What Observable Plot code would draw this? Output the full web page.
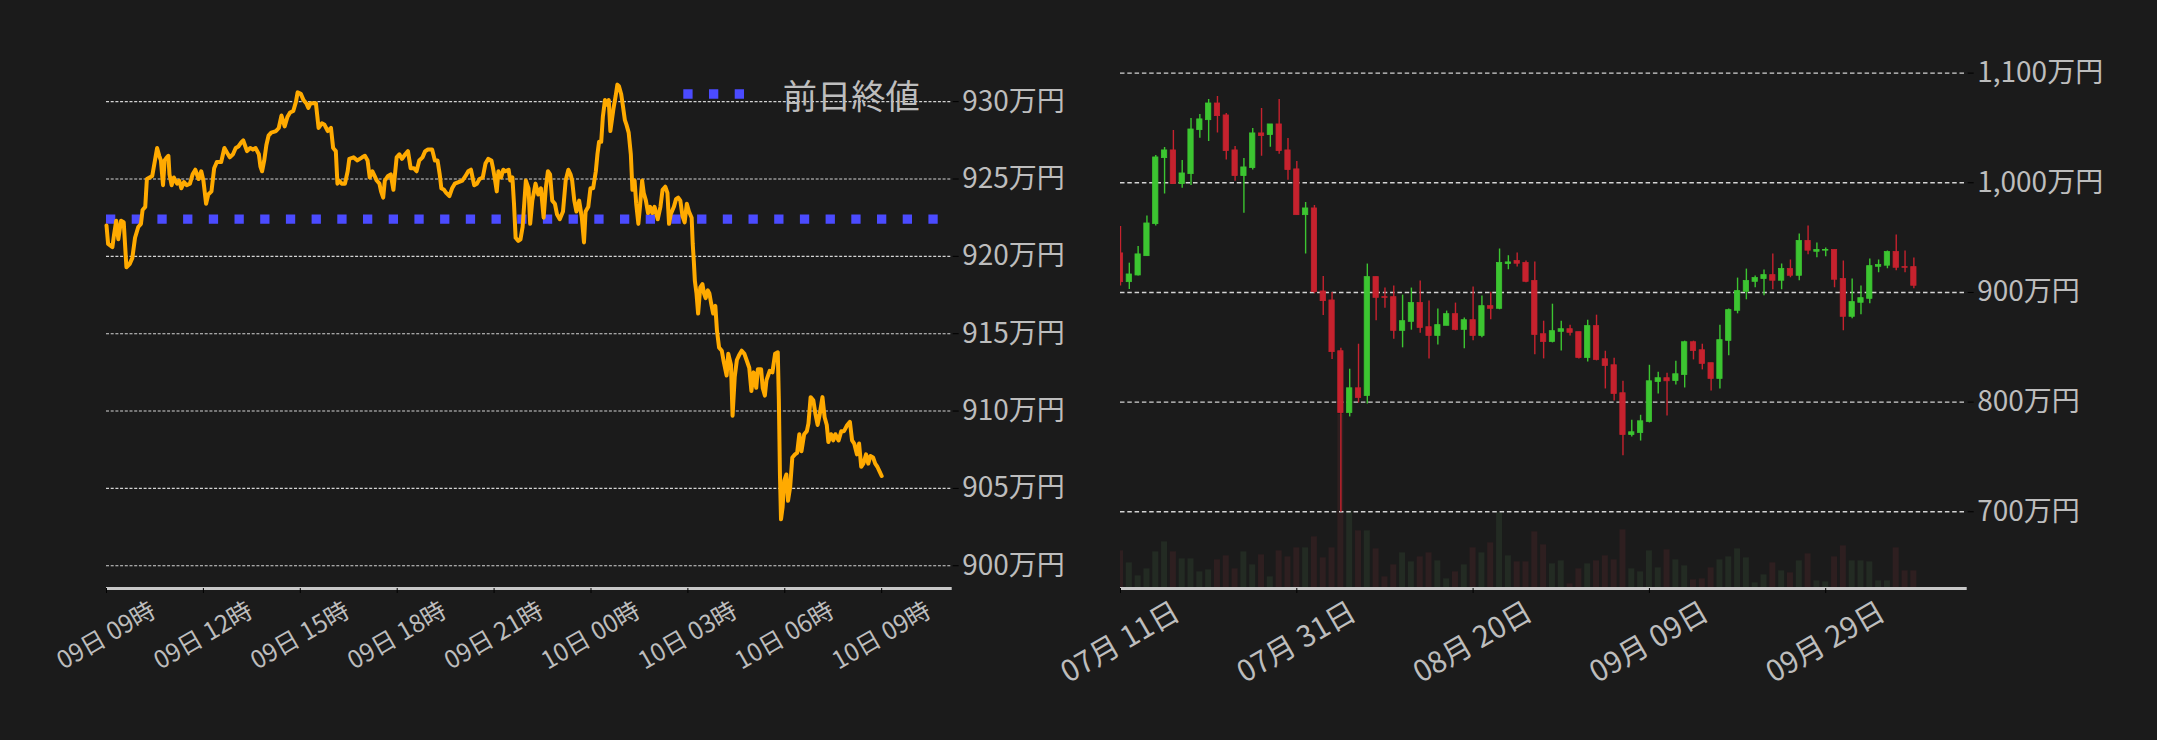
<!DOCTYPE html>
<html><head><meta charset="utf-8">
<script src="https://cdn.jsdelivr.net/npm/d3@7"></script>
<script src="https://cdn.jsdelivr.net/npm/@observablehq/plot@0.6"></script>
<style>
html,body{margin:0;padding:0;background:#1b1b1b;}
#wrap{position:relative;width:2157px;height:740px;overflow:hidden;background:#1b1b1b;font-family:"Noto Sans CJK JP","Noto Sans",sans-serif;}
.layer{position:absolute;top:0;}
</style></head><body><div id="wrap"></div>
<script>
// ---- intraday (left) ----
const intradayMinutes = [0,3,11,14,18,22,27,32,37,43,48,53,59,64,67,72,75,80,85,91,94,98,101,105,108,112,115,117,121,125,131,135,139,144,149,155,160,165,171,176,180,185,189,195,200,205,213,219,224,229,235,240,245,251,254,258,261,267,272,277,283,286,289,293,297,301,306,315,320,325,331,336,341,347,352,355,361,366,371,375,379,384,389,394,400,405,411,417,421,426,429,432,437,443,448,451,459,466,475,480,485,489,494,498,502,507,510,514,517,523,528,533,539,544,549,555,560,565,571,576,581,587,592,597,605,610,615,619,622,627,631,637,642,647,654,661,667,672,677,683,688,693,699,704,709,715,718,721,725,728,733,737,741,747,750,754,757,760,765,769,773,779,784,787,791,797,802,807,812,816,820,824,828,833,837,842,848,853,858,862,865,869,873,878,883,887,890,895,899,904,909,912,915,919,922,926,929,933,936,942,946,949,952,956,959,963,966,970,974,977,981,984,988,991,995,998,1002,1006,1010,1014,1018,1024,1029,1033,1038,1042,1045,1048,1054,1058,1062,1066,1070,1074,1078,1082,1087,1089,1091,1093,1096,1099,1103,1107,1110,1113,1117,1120,1123,1127,1131,1134,1138,1143,1146,1152,1155,1160,1163,1167,1171,1175,1180,1185,1189,1194,1198,1202,1207,1210,1216,1219,1223,1226,1232,1237,1242,1247,1249,1251,1253,1256,1259,1263,1266,1270,1274,1279,1283,1287,1291,1296,1301,1304,1308,1313,1317,1321,1325,1330,1334,1338,1341,1346,1350,1354,1360,1365,1370,1376,1381,1385,1389,1394,1398,1402,1406,1411,1415,1419,1424,1428,1432,1436,1440];
const intradayPrice = [922.0,920.8,920.6,921.4,922.3,921.1,922.3,922.2,919.3,919.5,
919.9,921.2,921.9,922.1,923.0,923.2,925.0,925.1,925.2,926.4,
927.0,926.5,926.2,924.6,926.2,926.4,926.5,925.3,924.6,925.1,
924.7,924.9,924.4,924.8,924.6,924.7,925.3,925.6,925.0,925.5,
924.9,923.4,924.0,924.2,925.7,926.1,926.1,927.0,926.7,926.4,
926.6,927.0,927.1,927.4,927.5,927.1,926.8,927.0,926.9,927.0,
926.6,925.8,925.5,926.2,927.2,927.8,928.0,928.1,928.3,929.1,
928.4,929.0,929.3,929.4,930.0,930.6,930.5,930.1,929.9,929.6,
929.9,929.9,929.9,928.3,928.6,928.5,928.1,928.3,927.0,926.8,
924.7,924.9,924.7,924.7,925.5,926.3,926.4,926.2,926.4,926.5,
926.2,925.1,925.5,925.2,924.9,924.7,924.2,923.8,924.9,925.2,
925.3,924.3,926.4,926.6,926.3,926.6,926.8,925.7,925.7,925.5,
926.2,926.4,926.8,926.9,926.9,926.2,926.2,925.3,924.4,924.3,
924.1,923.9,924.4,924.7,924.8,924.9,925.2,925.5,925.6,924.6,
924.7,925.0,925.1,926.0,926.3,926.2,925.7,925.1,924.2,925.5,
925.1,925.6,925.5,925.6,924.9,925.1,923.4,921.2,921.0,921.1,
921.9,924.9,924.4,922.1,923.6,924.7,924.0,924.4,922.5,924.4,
925.5,925.3,923.6,923.4,922.7,922.4,922.9,924.9,925.6,925.3,
924.9,923.6,922.9,923.6,922.5,920.9,922.9,923.2,924.4,924.4,
925.5,926.6,927.4,927.4,929.0,930.1,929.8,930.1,928.1,929.6,
930.4,931.1,931.0,930.5,929.8,928.8,928.5,928.0,926.6,924.3,
924.9,923.4,922.1,923.2,924.9,924.1,923.6,922.8,923.2,922.8,
923.2,922.4,923.2,924.3,924.5,924.1,922.1,922.7,923.2,923.7,
923.8,923.6,922.6,922.2,923.4,922.9,922.5,920.8,919.7,918.4,
917.6,916.3,918.0,918.2,917.6,917.3,917.8,917.6,917.0,916.3,
916.8,915.2,914.1,913.9,913.3,912.3,913.7,913.0,909.7,912.2,
913.3,913.6,913.9,913.7,913.3,912.8,911.3,912.5,911.5,912.7,
912.7,911.5,911.0,912.0,912.6,912.5,913.7,913.8,910.7,905.9,
903.0,903.8,905.5,905.9,904.2,905.1,907.0,907.2,907.3,908.5,
907.4,908.5,908.7,909.2,910.9,910.7,909.8,909.1,909.8,910.9,
909.6,909.1,908.0,908.5,908.1,908.5,908.1,908.7,908.7,909.1,
909.3,908.1,907.9,907.2,907.9,906.4,906.6,907.2,906.6,907.1,
907.0,906.6,906.4,906.1,905.8];
const prevClose = 922.4;
const legendLabel = "前日終値";
const leftXTicks = [0,180,360,540,720,900,1080,1260,1440];
const leftXLabels = ["09日 09時","09日 12時","09日 15時","09日 18時","09日 21時","10日 00時","10日 03時","10日 06時","10日 09時"];
const leftYTicks = [900,905,910,915,920,925,930];
const leftYLabels = ["900万円","905万円","910万円","915万円","920万円","925万円","930万円"];

// ---- daily candles (right), day 0 = 07/11 ----
const candleOpen  = [935.6,909.4,915.5,933.1,962.3,1022.5,1029.5,998.8,1007.9,1048.0,1057.1,1072.3,1061.4,1029.5,1006.1,1013.4,1045.0,1043.5,1053.2,1029.5,1012.2,970.5,976.6,900.9,892.7,846.4,790.1,812.6,805.6,914.0,895.7,895.7,865.0,873.2,890.3,868.3,860.4,869.6,880.2,865.9,874.7,860.4,887.5,885.1,925.9,928.6,926.8,910.4,861.9,854.9,864.1,866.5,863.8,840.3,869.3,839.1,833.6,808.1,770.0,771.8,781.9,818.4,821.8,819.3,824.8,854.6,847.3,835.5,821.2,855.9,883.3,900.6,909.7,912.2,915.8,910.7,921.3,915.2,946.9,937.1,938.1,938.7,912.2,877.8,890.6,894.2,923.4,924.4,936.8,923.1,923.1];
const candleHigh  = [960.2,926.7,941.9,969.6,1024.9,1032.2,1047.7,1020.4,1058.7,1062.3,1076.0,1078.7,1063.2,1033.1,1022.2,1049.5,1067.8,1053.2,1076.0,1040.4,1019.5,982.1,979.3,914.6,900.0,849.2,830.0,852.8,925.9,914.0,904.0,905.8,897.6,904.0,910.4,892.1,884.8,883.0,890.3,876.6,904.9,896.7,900.3,939.6,933.5,935.9,928.6,927.7,873.8,889.3,873.8,870.2,863.8,874.7,879.3,846.4,840.0,819.0,783.4,788.0,833.6,827.2,826.3,837.3,855.6,855.6,852.8,835.5,870.2,884.8,913.1,921.3,914.9,920.4,935.0,925.9,929.5,953.3,960.6,945.1,940.5,938.7,928.6,912.2,905.8,930.4,929.5,937.7,952.4,937.7,931.4];
const candleLow   = [905.8,902.7,914.9,933.0,960.5,989.7,998.8,995.1,997.6,1040.7,1037.7,1045.3,1020.7,1001.5,972.3,1011.6,1024.3,1032.5,1026.1,1002.4,970.5,935.0,898.8,879.0,838.9,699.7,786.5,799.2,798.3,874.1,885.7,857.4,849.5,865.6,862.9,839.4,852.2,869.6,865.0,848.6,855.9,858.6,875.0,884.2,920.7,923.1,908.8,843.1,839.4,854.0,846.7,860.4,839.4,836.7,837.6,812.0,801.1,751.0,768.2,764.5,781.0,807.5,787.4,815.7,812.9,838.5,829.4,810.2,812.0,842.2,880.5,893.3,904.3,897.0,902.4,902.4,913.4,910.7,934.4,931.7,932.6,904.3,865.0,876.0,879.6,889.6,918.0,921.6,919.8,918.0,903.3];
const candleClose = [909.4,916.4,934.7,962.9,1023.1,1029.5,998.8,1008.5,1048.6,1057.8,1072.3,1060.8,1028.9,1006.1,1014.0,1045.0,1042.6,1053.2,1028.9,1011.6,970.5,976.6,900.3,892.1,845.6,790.1,812.6,803.8,914.0,895.1,895.1,865.0,873.8,890.3,867.7,860.4,870.2,880.2,865.9,874.7,860.4,887.5,885.1,926.8,927.4,926.2,909.7,861.3,854.9,864.7,866.5,863.2,840.3,869.3,838.5,833.0,807.5,770.0,772.5,782.5,819.0,821.8,819.0,825.4,854.6,846.7,834.9,821.2,856.5,883.9,901.2,910.4,913.1,915.8,910.7,921.3,915.2,946.9,938.1,938.7,938.7,911.6,877.8,891.2,894.8,924.0,925.0,936.8,922.5,922.5,906.1];
const candleVolume = [113,77,38,59,110,140,110,89,89,50,56,86,98,59,110,71,101,35,113,95,122,122,155,92,122,522,233,173,173,119,35,71,107,80,95,107,83,29,50,71,122,107,137,227,98,80,80,170,131,74,83,14,59,74,83,98,86,176,59,50,113,62,116,86,68,26,29,62,86,95,119,92,17,41,77,53,47,83,104,23,20,95,128,83,83,80,23,23,122,53,53];
const rightXTicks = [0,20,40,60,80];
const rightXLabels = ["07月 11日","07月 31日","08月 20日","09月 09日","09月 29日"];
const rightYTicks = [700,800,900,1000,1100];
const rightYLabels = ["700万円","800万円","900万円","1,000万円","1,100万円"];

// ---- styles ----
const TXT = "#bdbdbd", GRID = "#d4d4d4", AXIS = "#c8c8c8";
const ORANGE = "#ffaa00", BLUE = "#4b4bff";
const UP = "#3cc531", DOWN = "#c6222e", UPV = "#232b23", DOWNV = "#2e1f20";
const FONT = '"Noto Sans CJK JP","Noto Sans",sans-serif';
const svgStyle = {background:"transparent", color:TXT, fontFamily:FONT, overflow:"visible", maxWidth:"none"};

const intraday = intradayMinutes.map((t,i)=>({t, p:intradayPrice[i]}));
const candles = candleOpen.map((o,i)=>({d:i, open:o, high:candleHigh[i], low:candleLow[i], close:candleClose[i], vol:candleVolume[i], up: candleClose[i] >= o}));

const wrap = document.getElementById("wrap");
function place(el, left){ el.classList.add("layer"); el.style.left = left + "px"; wrap.appendChild(el); }

// ---- left chart ----
const LW = 1080, LYD = [898.53, 932.66];
const left = Plot.plot({
  width: LW, height: 740, marginLeft: 106, marginRight: LW - 951.7, marginTop: 60, marginBottom: 152,
  style: svgStyle,
  x: {domain:[0,1571], axis:null},
  y: {domain:LYD, axis:null},
  marks: [
    Plot.gridY(leftYTicks, {stroke:GRID, strokeOpacity:1, strokeWidth:1.1, strokeDasharray:"3,1.7"}),
    Plot.axisY(leftYTicks, {anchor:"right", label:null, tickSize:6, tickPadding:4, stroke:"#000", fill:TXT, fontSize:28, tickFormat: d => leftYLabels[leftYTicks.indexOf(d)]}),
    Plot.ruleY([prevClose], {stroke:BLUE, strokeWidth:9.3, strokeDasharray:"9.3,16.4"}),
    Plot.line(intraday, {x:"t", y:"p", stroke:ORANGE, strokeWidth:4, strokeLinejoin:"round"}),
    Plot.ruleY([LYD[0]], {stroke:AXIS, strokeWidth:3}),
    Plot.axisX(leftXTicks, {anchor:"bottom", label:null, tickSize:5, stroke:"#000", fill:"none"}),
    Plot.text(leftXTicks, {x:d=>d, frameAnchor:"bottom", dy:47.5, rotate:-30, text:(d,i)=>leftXLabels[i], fontSize:24.5, fill:TXT, textAnchor:"middle", lineAnchor:"middle"})
  ]
});
place(left, 0);

// legend (left chart)
const leg = d3.create("svg").attr("width", 400).attr("height", 140);
leg.append("line").attr("x1",3.3).attr("x2",64).attr("y1",94).attr("y2",94)
  .attr("stroke",BLUE).attr("stroke-width",9.3).attr("stroke-dasharray","9.3,16.4");
leg.append("text").attr("x",102.7).attr("y",94).attr("dominant-baseline","central")
  .attr("font-size",34.3).attr("font-family",FONT).attr("fill",TXT).text(legendLabel);
place(leg.node(), 680);

// ---- right chart ----
const RL = 1000, RW = 1157, RYD = [630.06, 1111.5], RXD = [0, 96.05];
const rightGeom = {width: RW, height: 740, marginLeft: 120, marginRight: RW - 966.7, marginTop: 60, marginBottom: 152};

const vol = Plot.plot({
  ...rightGeom, style: svgStyle,
  x: {domain:RXD, axis:null},
  y: {domain:[0,1584], axis:null},
  marks: [
    Plot.rect(candles, {x1:d=>d.d-0.34, x2:d=>d.d+0.34, y1:()=>0, y2:"vol", fill:d=>d.up?UPV:DOWNV, clip:true})
  ]
});
place(vol, RL);

const right = Plot.plot({
  ...rightGeom, style: svgStyle,
  x: {domain:RXD, axis:null},
  y: {domain:RYD, axis:null},
  color: {type:"identity"},
  marks: [
    Plot.gridY(rightYTicks, {stroke:GRID, strokeOpacity:1, strokeWidth:1.4, strokeDasharray:"4.5,2.8"}),
    Plot.axisY(rightYTicks, {anchor:"right", label:null, tickSize:6, tickPadding:4, stroke:"#000", fill:TXT, fontSize:28, tickFormat: d => rightYLabels[rightYTicks.indexOf(d)]}),
    Plot.ruleX(candles, {x:"d", y1:"low", y2:"high", stroke:d=>d.up?UP:DOWN, strokeWidth:1.4, clip:true}),
    Plot.rect(candles, {x1:d=>d.d-0.3, x2:d=>d.d+0.3, y1:"open", y2:"close", fill:d=>d.up?UP:DOWN, stroke:d=>d.up?UP:DOWN, strokeWidth:0.8, clip:true}),
    Plot.ruleY([RYD[0]], {stroke:AXIS, strokeWidth:3}),
    Plot.axisX(rightXTicks, {anchor:"bottom", label:null, tickSize:5, stroke:"#000", fill:"none"}),
    Plot.text(rightXTicks, {x:d=>d, frameAnchor:"bottom", dy:54, rotate:-30, text:(d,i)=>rightXLabels[i], fontSize:29.5, fill:TXT, textAnchor:"middle", lineAnchor:"middle"})
  ]
});
place(right, RL);
</script></body></html>
